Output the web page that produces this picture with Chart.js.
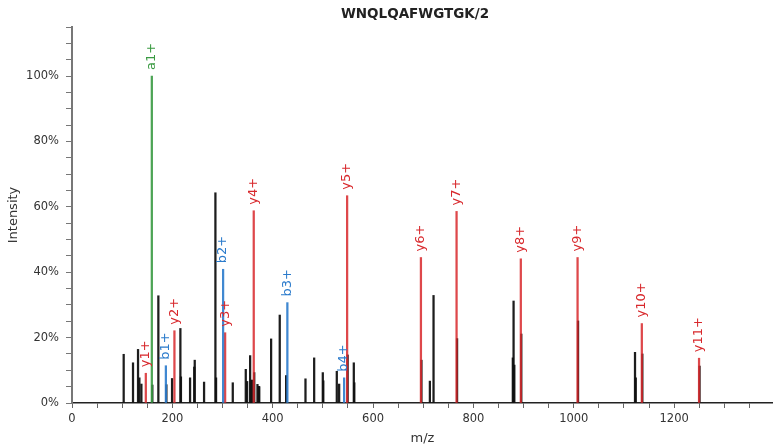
<!DOCTYPE html>
<html>
<head>
<meta charset="utf-8">
<script src="https://cdn.jsdelivr.net/npm/chart.js@4.4.0/dist/chart.umd.min.js"></script>
<style>
  html, body { margin: 0; padding: 0; background: #fff; }
</style>
</head>
<body>
<canvas id="spectrum" width="773" height="447"></canvas>
<script>
const spectrumTitle = 'WNQLQAFWGTGK/2';

// unannotated peaks (m/z, relative intensity %)
const peakMz = [103.0, 121.6, 131.6, 134.3, 138.3, 160.1, 172.1, 188.1, 199.4, 216.0, 217.1,
  235.3, 243.6, 244.6, 263.2, 285.8, 287.1, 320.4, 346.3, 349.0, 355.0, 357.6, 359.6, 363.2,
  369.6, 372.2, 373.2, 396.8, 414.0, 426.7, 465.3, 482.6, 499.8, 500.8, 527.7, 532.4, 549.3,
  561.6, 562.6, 696.4, 713.2, 720.5, 767.4, 878.5, 880.0, 881.5, 895.4, 1008.5, 1122.0,
  1123.5, 1136.6, 1250.6];
const peakIntensity = [14.9, 12.3, 16.4, 7.7, 5.8, 5.5, 32.8, 5.6, 7.5, 22.8, 8.0,
  7.7, 11.0, 13.1, 6.4, 64.3, 7.7, 6.2, 10.3, 6.6, 14.5, 7.0, 7.0, 9.3,
  5.7, 5.1, 5.0, 19.6, 26.9, 8.4, 7.4, 13.8, 9.3, 6.8, 9.7, 5.8, 14.7,
  12.3, 6.2, 13.1, 6.7, 32.9, 19.7, 13.8, 31.2, 11.6, 21.1, 25.1, 15.5,
  7.7, 15.0, 11.3];

// annotated fragment ions
const aIonLabels = ['a1+'];
const aIonMz = [159.09];
const aIonIntensity = [100];

const bIonLabels = ['b1+', 'b2+', 'b3+', 'b4+'];
const bIonMz = [187.09, 301.13, 429.19, 542.27];
const bIonIntensity = [11.4, 40.9, 30.7, 7.7];

const yIonLabels = ['y1+', 'y2+', 'y3+', 'y4+', 'y5+', 'y6+', 'y7+', 'y8+', 'y9+', 'y10+', 'y11+'];
const yIonMz = [147.11, 204.13, 305.18, 362.20, 548.28, 695.35, 766.39, 894.45, 1007.53, 1135.59, 1249.63];
const yIonIntensity = [9.1, 22.1, 21.5, 58.8, 63.4, 44.5, 58.6, 44.1, 44.5, 24.3, 13.7];

const toPoints = (mz, inten) => mz.map((m, i) => ({ x: m, y: inten[i] }));

const textColor = '#333';

// rotated ion labels above each annotated peak
const ionLabelPlugin = {
  id: 'ionLabels',
  afterDatasetsDraw(chart) {
    const { ctx, scales: { x, y } } = chart;
    ctx.save();
    ctx.font = '13px "DejaVu Sans"';
    ctx.textBaseline = 'middle';
    ctx.textAlign = 'left';
    chart.data.datasets.forEach(ds => {
      if (!ds.ionLabels) return;
      ctx.fillStyle = ds.labelColor;
      ds.data.forEach((p, i) => {
        ctx.save();
        ctx.translate(x.getPixelForValue(p.x), y.getPixelForValue(p.y) - 6);
        ctx.rotate(-Math.PI / 2);
        ctx.fillText(ds.ionLabels[i], 0, 0);
        ctx.restore();
      });
    });
    ctx.restore();
  }
};

// title sits a bit right of the canvas centre
const titlePlugin = {
  id: 'spectrumTitle',
  afterDraw(chart) {
    const ctx = chart.ctx;
    ctx.save();
    ctx.font = 'bold 13.5px "DejaVu Sans"';
    ctx.fillStyle = '#222';
    ctx.textAlign = 'center';
    ctx.textBaseline = 'middle';
    ctx.fillText(spectrumTitle, 415, 14);
    ctx.restore();
  }
};

new Chart(document.getElementById('spectrum'), {
  type: 'bar',
  data: {
    datasets: [
      // lower order = drawn on top, so coloured ions sit over the black peaks
      { data: toPoints(peakMz, peakIntensity), backgroundColor: 'rgba(17,17,17,0.95)', order: 2 },
      { data: toPoints(aIonMz, aIonIntensity), backgroundColor: 'rgba(58,154,66,0.9)',
        ionLabels: aIonLabels, labelColor: '#3a9a42', order: 1 },
      { data: toPoints(bIonMz, bIonIntensity), backgroundColor: 'rgba(43,123,204,0.9)',
        ionLabels: bIonLabels, labelColor: '#2b7bcc', order: 1 },
      { data: toPoints(yIonMz, yIonIntensity), backgroundColor: 'rgba(216,40,44,0.85)',
        ionLabels: yIonLabels, labelColor: '#d8282c', order: 1 }
    ]
  },
  options: {
    responsive: false,
    animation: false,
    devicePixelRatio: 1,
    barThickness: 1.6,
    grouped: false,
    layout: { padding: { top: 27, right: 0, left: 0, bottom: 0 } },
    plugins: {
      legend: { display: false },
      tooltip: { enabled: false }
    },
    scales: {
      x: {
        type: 'linear',
        min: 0,
        max: 1397,
        offset: false,
        grid: { offset: false, drawOnChartArea: false, tickLength: 5, tickColor: '#666' },
        border: { color: '#222', width: 1.5 },
        ticks: {
          stepSize: 50,
          includeBounds: false,
          autoSkip: false,
          maxRotation: 0,
          padding: 4,
          color: textColor,
          font: { family: '"DejaVu Sans"', size: 11.5 },
          callback: v => (v % 200 === 0 ? String(v) : '')
        },
        title: {
          display: true,
          text: 'm/z',
          color: textColor,
          font: { family: '"DejaVu Sans"', size: 13 },
          padding: { top: 0, bottom: 1 }
        },
        afterFit: s => { s.height = 44; }
      },
      y: {
        min: 0,
        max: 115,
        grid: { drawOnChartArea: false, tickLength: 6, tickColor: '#777' },
        border: { color: '#777', width: 2 },
        ticks: {
          stepSize: 5,
          autoSkip: false,
          padding: 7,
          color: textColor,
          font: { family: '"DejaVu Sans"', size: 11.5 },
          callback: v => (v % 20 === 0 ? v + '%' : '')
        },
        title: {
          display: true,
          text: 'Intensity',
          color: textColor,
          font: { family: '"DejaVu Sans"', size: 13 },
          padding: { top: 6, bottom: 0 }
        },
        afterFit: s => { s.width = 72; }
      }
    }
  },
  plugins: [ionLabelPlugin, titlePlugin]
});
</script>
</body>
</html>
